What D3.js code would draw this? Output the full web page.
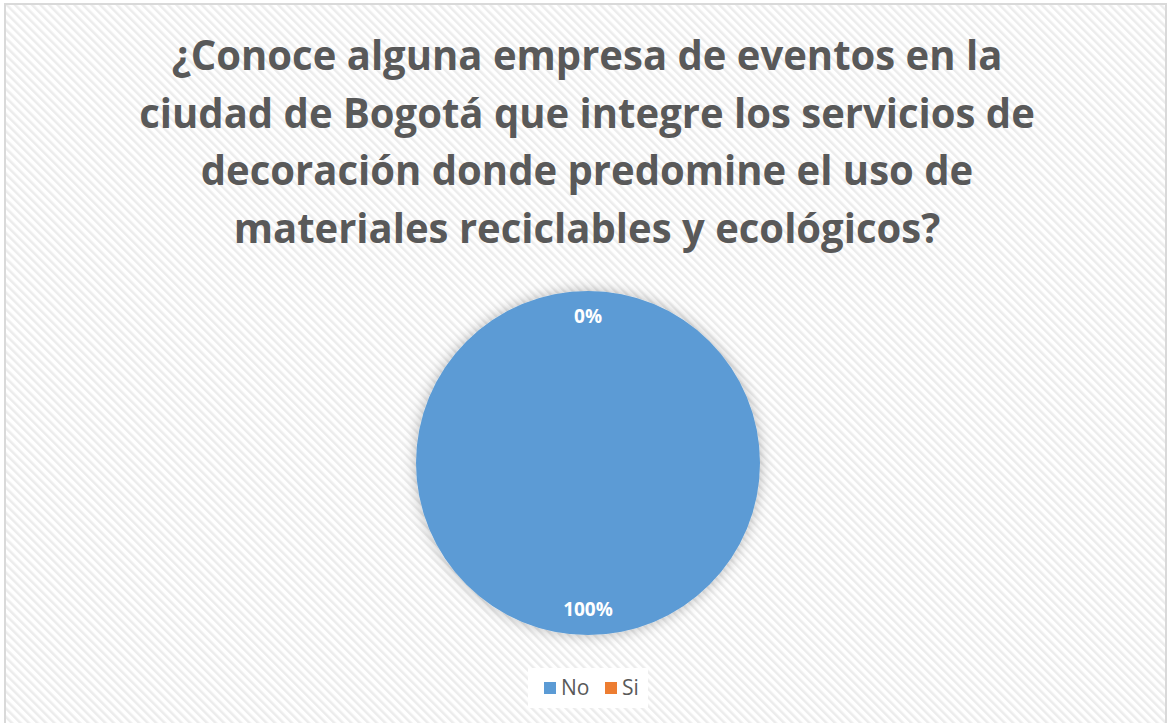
<!DOCTYPE html>
<html>
<head>
<meta charset="utf-8">
<script src="https://cdn.jsdelivr.net/npm/d3@7"></script>
<style>
  html, body { margin: 0; padding: 0; background: #fff; }
  svg { display: block; }
</style>
</head>
<body>
<div id="chart"></div>
<script>
// Chart data
const categories = ["No", "Si"];
const values = [100, 0];
const colors = ["#5B9BD5", "#ED7D31"];
const titleLines = [
    "¿Conoce alguna empresa de eventos en la",
    "ciudad de Bogotá que integre los servicios de",
    "decoración donde predomine el uso de",
    "materiales reciclables y ecológicos?"
];

const width = 1168;
const height = 723;
const cx = 588, cy = 463, radius = 172;

const svg = d3.select("#chart")
    .append("svg")
    .attr("width", width)
    .attr("height", height);

const defs = svg.append("defs");

// diagonal stripes in the chart background
const pattern = defs.append("pattern")
    .attr("id", "stripes")
    .attr("patternUnits", "userSpaceOnUse")
    .attr("width", 6)
    .attr("height", 6)
    .attr("patternTransform", "rotate(-45)");
pattern.append("rect").attr("width", 6).attr("height", 6).attr("fill", "#ffffff");
pattern.append("rect").attr("width", 2.5).attr("height", 6).attr("fill", "#ececec");

// soft glow around the pie
const filter = defs.append("filter")
    .attr("id", "glow")
    .attr("x", "-20%").attr("y", "-20%")
    .attr("width", "140%").attr("height", "140%");
filter.append("feGaussianBlur").attr("in", "SourceAlpha").attr("stdDeviation", 7).attr("result", "blur");
filter.append("feFlood").attr("flood-color", "#000").attr("flood-opacity", 0.28);
filter.append("feComposite").attr("in2", "blur").attr("operator", "in").attr("result", "shadow");
const merge = filter.append("feMerge");
merge.append("feMergeNode").attr("in", "shadow");
merge.append("feMergeNode").attr("in", "SourceGraphic");

// chart area
svg.append("rect")
    .attr("x", 5).attr("y", 4)
    .attr("width", 1161).attr("height", 730)
    .attr("fill", "url(#stripes)")
    .attr("stroke", "#d9d9d9")
    .attr("stroke-width", 2);

// title
const title = svg.append("g")
    .attr("fill", "#595959")
    .attr("font-family", "'Open Sans', 'Noto Sans', sans-serif")
    .attr("font-weight", "bold")
    .attr("font-size", 42)
    .attr("text-anchor", "middle");

const titleText = title.selectAll("text")
    .data(titleLines)
    .join("text")
    .attr("x", 0)
    .attr("y", (d, i) => 70 + i * 57.7)
    .text(d => d);

// squeeze the wider substitute font to the original line width
const firstWidth = titleText.node().getComputedTextLength();
const sx = 831 / firstWidth;
title.attr("transform", `translate(${cx - 1},0) scale(${sx},1)`);

// pie
const pie = d3.pie().sort(null).value(d => d);
const arcs = pie(values);
const arc = d3.arc().innerRadius(0).outerRadius(radius);
const labelArc = d3.arc().innerRadius(radius * 0.7).outerRadius(radius);

const g = svg.append("g").attr("transform", `translate(${cx},${cy})`);

g.append("g")
    .attr("filter", "url(#glow)")
    .selectAll("path")
    .data(arcs)
    .join("path")
    .attr("d", arc)
    .attr("fill", (d, i) => colors[i]);

g.selectAll("text.label")
    .data(arcs)
    .join("text")
    .attr("class", "label")
    .attr("transform", d => `translate(${labelArc.centroid(d)})`)
    .attr("text-anchor", "middle")
    .attr("dy", "0.35em")
    .attr("fill", "#fff")
    .attr("font-family", "'Open Sans', sans-serif")
    .attr("font-weight", "bold")
    .attr("font-size", 19)
    .text(d => d3.format(".0%")(d.data / d3.sum(values)));

// legend
svg.append("rect")
    .attr("x", 528).attr("y", 668)
    .attr("width", 120).attr("height", 40)
    .attr("fill", "#fff");

const legend = svg.append("g")
    .attr("font-family", "'Open Sans', sans-serif")
    .attr("font-size", 21)
    .attr("fill", "#595959");

const legendX = [544, 605];
const item = legend.selectAll("g")
    .data(categories)
    .join("g")
    .attr("transform", (d, i) => `translate(${legendX[i]},682)`);

item.append("rect")
    .attr("width", 12).attr("height", 12)
    .attr("fill", (d, i) => colors[i]);

item.append("text")
    .attr("x", 17)
    .attr("y", 13)
    .text(d => d);
</script>
</body>
</html>
